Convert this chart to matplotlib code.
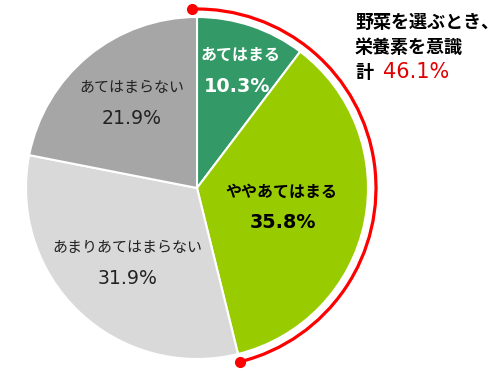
import numpy as np
import matplotlib.pyplot as plt
from matplotlib.patches import Arc

plt.rcParams['font.family'] = ['Noto Sans CJK JP', 'DejaVu Sans']

labels = ["あてはまる", "ややあてはまる", "あまりあてはまらない", "あてはまらない"]
values = [10.3, 35.8, 31.9, 21.9]
colors = ["#339966", "#99cc00", "#d9d9d9", "#a6a6a6"]
total_label = "46.1%"

fig = plt.figure(figsize=(5, 3.73), dpi=100)
ax = fig.add_axes([0, 0, 1, 1])

cx, cy, r = 197, 185, 171
ax.pie(values, colors=colors, startangle=90, counterclock=False,
       center=(cx, cy), radius=r,
       wedgeprops=dict(edgecolor="white", linewidth=1.5))

# label positions (px from top-left): label x, label y, pct x, pct y
txt_pos = [(241, 55, 237, 87), (281, 192, 283, 223), (127, 248, 128, 278), (132, 88, 132, 119)]
txt_col = ["white", "black", "#222222", "#222222"]
txt_w = ["bold", "bold", "normal", "normal"]
for lab, v, (x1, y1, x2, y2), c, w in zip(labels, values, txt_pos, txt_col, txt_w):
    fs = 11.5 if w == "bold" else 10.8
    ax.text(x1, 373 - y1, lab, ha="center", va="center", fontsize=fs, color=c, fontweight=w)
    ax.text(x2, 373 - y2, f"{v}%", ha="center", va="center", fontsize=13.8 if w == "bold" else 13.6,
            color=c, fontweight=w, family="DejaVu Sans")

# red arc over first two slices
ra = 179
a_end = 90 - 360 * (values[0] + values[1]) / 100
a_start = 91.5
ax.add_patch(Arc((cx, cy), 2 * ra, 2 * ra, theta1=a_end, theta2=a_start, color="#ff0000", lw=2.3))
for a in (a_start, a_end):
    ax.plot(cx + ra * np.cos(np.radians(a)), cy + ra * np.sin(np.radians(a)), "o",
            color="#ff0000", markersize=7)

ax.text(355, 373 - 22, "野菜を選ぶとき、", fontsize=13, fontweight="bold", va="center", ha="left")
ax.text(355, 373 - 47, "栄養素を意識", fontsize=13, fontweight="bold", va="center", ha="left")
ax.text(355, 373 - 72, "計", fontsize=13, fontweight="bold", va="center", ha="left")
ax.text(383, 373 - 72, total_label, fontsize=15, va="center", ha="left", color="#e00000",
        family="DejaVu Sans")

ax.set_xlim(0, 500)
ax.set_ylim(0, 373)
ax.set_aspect("equal")
ax.axis("off")

fig.savefig("out.png", dpi=100)
